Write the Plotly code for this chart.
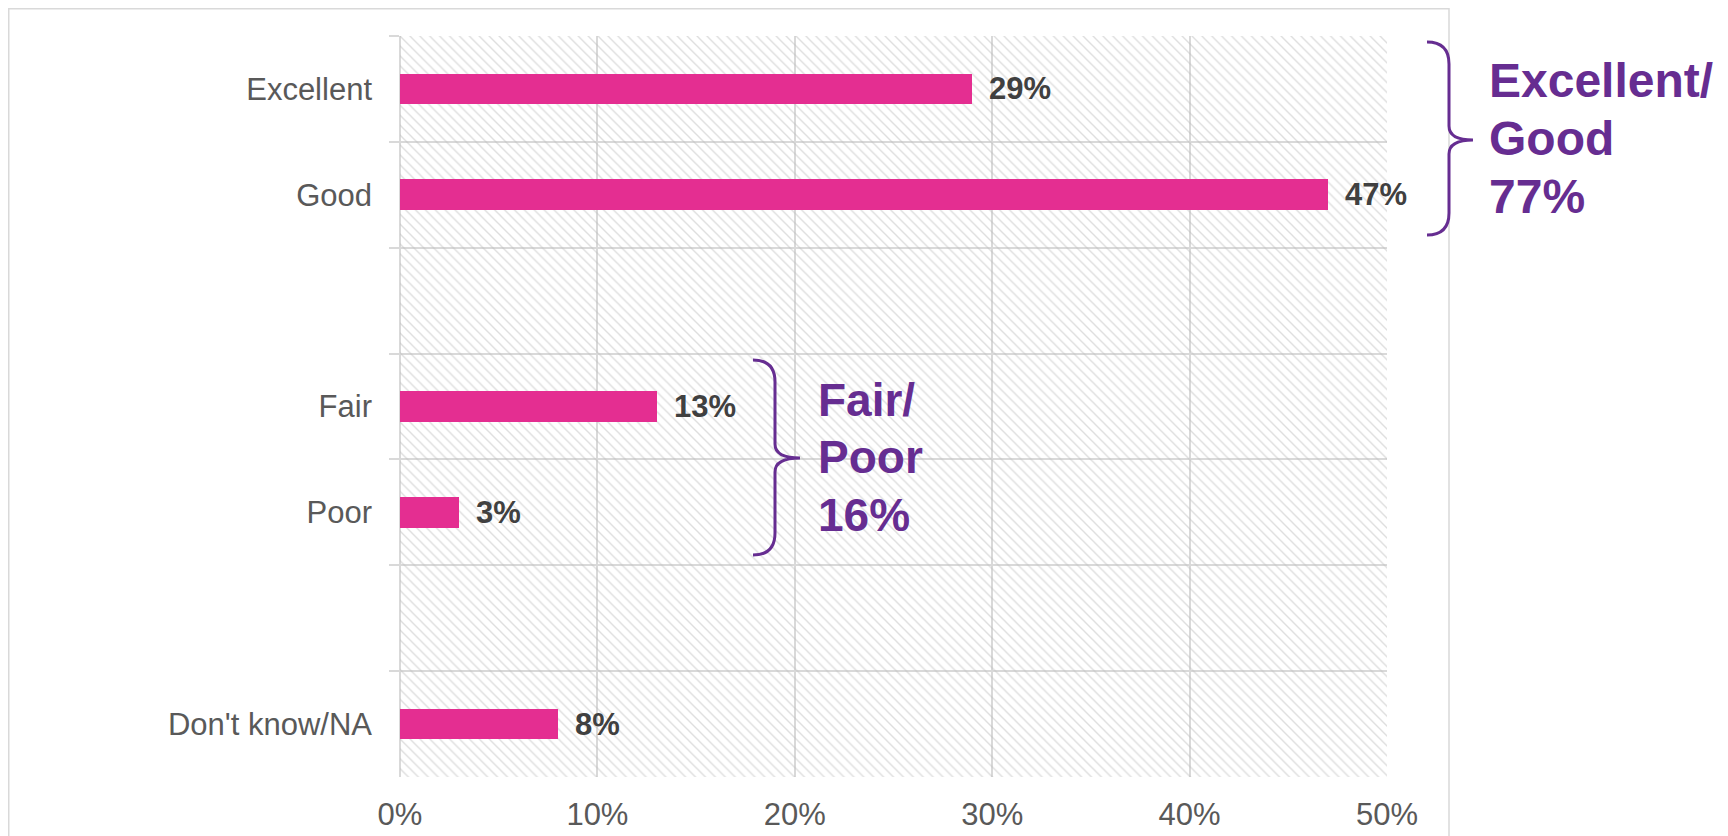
import plotly.graph_objects as go

categories = ["Excellent", "Good", " ", "Fair", "Poor", "  ", "Don't know/NA"]
values = [29, 47, None, 13, 3, None, 8]
x_ticks = [0, 10, 20, 30, 40, 50]
x_tick_text = [f"{v}%" for v in x_ticks]
group1_lines = ["Excellent/", "Good", "77%"]
group2_lines = ["Fair/", "Poor", "16%"]

FONT = "Liberation Sans, Arial, sans-serif"
PINK = "#E42E91"
PURPLE = "#662D91"
GRID = "#d9d9d9"

W, H = 1728, 836
OFF = 8  # page offset of the figure (body margin)
L, R, T, B = 400 - OFF, 1387 - OFF, 36 - OFF, 777 - OFF  # plot area in figure pixels


def px(x):
    # x measured on the page -> paper coordinate
    return (x - OFF - L) / (R - L)


def py(y):
    return (B - (y - OFF)) / (B - T)


def brace(x0, xv, xt, y0, ym, y1, r=22):
    pts = [
        f"M {px(x0)},{py(y0)}",
        f"Q {px(xv)},{py(y0)} {px(xv)},{py(y0 + r)}",
        f"L {px(xv)},{py(ym - 14)}",
        f"Q {px(xv)},{py(ym)} {px(xt)},{py(ym)}",
        f"Q {px(xv)},{py(ym)} {px(xv)},{py(ym + 14)}",
        f"L {px(xv)},{py(y1 - r)}",
        f"Q {px(xv)},{py(y1)} {px(x0)},{py(y1)}",
    ]
    return " ".join(pts)


fig = go.Figure()

# hatched plot background
fig.add_trace(go.Bar(
    y=categories, x=[x_ticks[-1]] * len(categories), orientation="h", width=1,
    marker=dict(color="rgba(0,0,0,0)", line=dict(width=0),
                pattern=dict(shape="\\", fgcolor="#bdbdbd", bgcolor="rgba(0,0,0,0)",
                             size=7, solidity=0.2)),
    hoverinfo="skip", showlegend=False,
))

fig.add_trace(go.Bar(
    y=categories, x=values, orientation="h", width=0.29,
    marker=dict(color=PINK, line=dict(width=0)),
    showlegend=False,
))

annotations = []
for c, v in zip(categories, values):
    if v is None:
        continue
    annotations.append(dict(
        x=v, y=c, xref="x", yref="y", text=f"{v}%", showarrow=False,
        xanchor="left", yanchor="middle", xshift=15,
        font=dict(family=FONT, size=31, color="#404040", weight="bold"),
    ))


def add_lines(lines, x_left, baselines, size):
    for t, bl in zip(lines, baselines):
        annotations.append(dict(
            x=px(x_left), y=py(bl - 0.35 * size), xref="paper", yref="paper", text=t,
            showarrow=False, xanchor="left", yanchor="middle", align="left",
            font=dict(family=FONT, size=size, color=PURPLE, weight="bold"),
        ))


add_lines(group1_lines, 1487, [97, 155, 213], 48)
add_lines(group2_lines, 816, [416, 473, 531], 46)

shapes = [
    dict(type="path", xref="paper", yref="paper",
         path=brace(1427, 1449, 1473, 42, 140, 235),
         line=dict(color=PURPLE, width=3)),
    dict(type="path", xref="paper", yref="paper",
         path=brace(753, 775, 800, 360, 458, 555),
         line=dict(color=PURPLE, width=3)),
    dict(type="rect", xref="paper", yref="paper", layer="below",
         x0=px(OFF + 0.75), x1=px(1449), y0=py(OFF + 0.75), y1=py(870),
         line=dict(color=GRID, width=1.5)),
]

fig.update_layout(
    width=W, height=H,
    margin=dict(l=L, r=W - R, t=T, b=H - B, pad=0),
    paper_bgcolor="white", plot_bgcolor="white",
    barmode="overlay", bargap=0,
    font=dict(family=FONT, color="#595959"),
    annotations=annotations, shapes=shapes,
    xaxis=dict(range=[0, x_ticks[-1]], tickvals=x_ticks, ticktext=x_tick_text,
               showgrid=True, gridcolor=GRID, gridwidth=1.5,
               zeroline=True, zerolinecolor=GRID, zerolinewidth=1.5,
               showline=False, ticks="", tickfont=dict(size=31, color="#595959"),
               ticklabelstandoff=16),
    yaxis=dict(categoryorder="array", categoryarray=categories, autorange="reversed",
               tickson="boundaries", ticks="outside", ticklen=10, tickcolor=GRID, tickwidth=1.5,
               showgrid=True, gridcolor=GRID, gridwidth=1.5,
               showline=False, tickfont=dict(size=31, color="#595959"),
               ticklabelstandoff=27),
)

fig.write_html("out.html")
